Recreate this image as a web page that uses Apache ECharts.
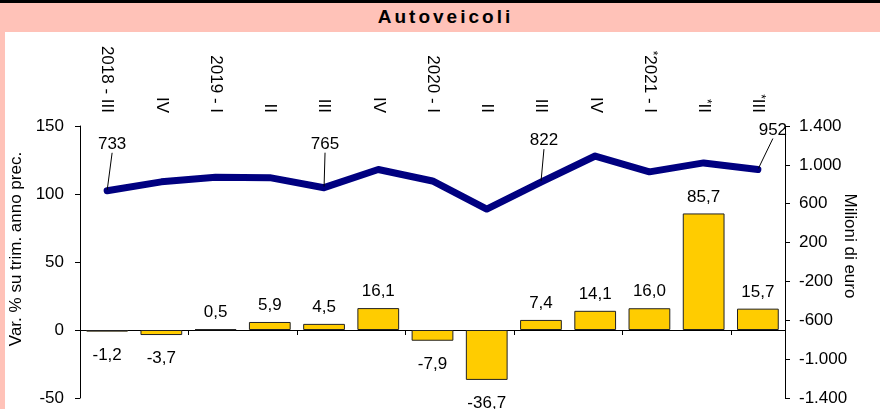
<!DOCTYPE html>
<html><head><meta charset="utf-8">
<script src="https://cdn.jsdelivr.net/npm/echarts@6/dist/echarts.min.js"></script>
<style>
html,body{margin:0;padding:0;width:880px;height:409px;overflow:hidden;background:#FFC2B8;}
#topline{position:absolute;left:0;top:0;width:880px;height:3px;background:#000;}
#title{position:absolute;left:0;top:6px;width:869px;padding-left:11px;height:26px;line-height:28px;text-align:center;font:bold 19px "Liberation Sans",Arial,sans-serif;letter-spacing:3px;color:#000;}
#chart{position:absolute;left:5px;top:32px;width:875px;height:377px;background:#fff;}
</style></head>
<body>
<div id="topline"></div>
<div id="title">Autoveicoli</div>
<div id="chart"></div>
<script>
const categories = ['2018 - III','IV','2019 - I','II','III','IV','2020 - I','II','III','IV','*2021 - I','*II','*III'];
const barValues = [-1.2, -3.7, 0.5, 5.9, 4.5, 16.1, -7.9, -36.7, 7.4, 14.1, 16.0, 85.7, 15.7];
const lineValues = [733, 825, 872, 868, 765, 952, 834, 545, 822, 1091, 928, 1020, 952];
const lineLabelShown = [true, false, false, false, true, false, false, false, true, false, false, false, true];
const leftAxis = {min: -50, max: 150, interval: 50};
const rightAxis = {min: -1400, max: 1400, interval: 400};

const FONT = '"Liberation Sans", Arial, sans-serif';
const labelOffsets = {0: [5, -32], 4: [1, -29], 8: [3, -27], 12: [15, -25]};

function comma(v) { return v.toFixed(1).replace('.', ','); }
function thousands(v) {
  const s = Math.abs(v).toString().replace(/\B(?=(\d{3})+(?!\d))/g, '.');
  return (v < 0 ? '-' : '') + s;
}

const chart = echarts.init(document.getElementById('chart'), null, {renderer: 'canvas'});
const option = {
  animation: false,
  textStyle: {fontFamily: FONT, color: '#000'},
  grid: {left: 75, right: 95, top: 94, bottom: 11, containLabel: false, outerBoundsMode: 'none'},
  xAxis: [
    {
      type: 'category', data: categories, position: 'top',
      axisLine: {show: false, onZero: false}, axisTick: {show: false},
      axisLabel: {
        rotate: 90, margin: 13, interval: 0, fontSize: 17, color: '#000', fontFamily: FONT,
        formatter: v => v.startsWith('*') ? '{sup|*}{n|' + v.slice(1) + '}' : '{n|' + v + '}',
        rich: {
          sup: {fontSize: 12, verticalAlign: 'top', fontFamily: FONT, color: '#000'},
          n: {fontSize: 17, fontFamily: FONT, color: '#000'}
        }
      },
      splitLine: {show: false}
    },
    {
      type: 'category', data: categories, position: 'bottom',
      axisLine: {show: true, onZero: true, onZeroAxisIndex: 0, lineStyle: {color: '#000', width: 1}},
      axisTick: {show: true, length: 5, lineStyle: {color: '#000'}},
      axisLabel: {show: false},
      splitLine: {show: false}
    }
  ],
  yAxis: [
    {
      type: 'value', position: 'left', min: leftAxis.min, max: leftAxis.max, interval: leftAxis.interval,
      name: 'Var. % su trim. anno prec.', nameLocation: 'middle', nameGap: 55, nameRotate: 90,
      nameMoveOverlap: false,
      nameTextStyle: {fontSize: 17, color: '#000', fontFamily: FONT, padding: [0, 0, 0, 26]},
      axisLine: {show: true, lineStyle: {color: '#000'}},
      axisTick: {show: true, length: 5, lineStyle: {color: '#000'}},
      axisLabel: {margin: 16, fontSize: 17, color: '#000', fontFamily: FONT},
      splitLine: {show: false}
    },
    {
      type: 'value', position: 'right', min: rightAxis.min, max: rightAxis.max, interval: rightAxis.interval,
      name: 'Milioni di euro', nameLocation: 'middle', nameGap: 56, nameRotate: -90,
      nameMoveOverlap: false,
      nameTextStyle: {fontSize: 17, color: '#000', fontFamily: FONT, padding: [0, 32, 0, 0]},
      axisLine: {show: true, lineStyle: {color: '#000'}},
      axisTick: {show: true, length: 5, lineStyle: {color: '#000'}},
      axisLabel: {margin: 14, fontSize: 17, color: '#000', fontFamily: FONT, formatter: thousands},
      splitLine: {show: false}
    }
  ],
  series: [
    {
      type: 'bar', xAxisIndex: 1, yAxisIndex: 0,
      barCategoryGap: '23%',
      data: barValues.map(v => ({
        value: v,
        label: {position: v < 0 ? 'bottom' : 'top', distance: v < 0 ? 15 : 8}
      })),
      itemStyle: {color: '#FFCC00', borderColor: '#222', borderWidth: 1},
      label: {show: true, fontSize: 17, color: '#000', fontFamily: FONT, formatter: p => comma(p.value)}
    },
    {
      type: 'line', xAxisIndex: 1, yAxisIndex: 1, z: 5,
      data: lineValues.map((v, i) => ({value: v, label: {show: lineLabelShown[i]}})),
      symbol: 'circle', symbolSize: 2, showSymbol: true,
      itemStyle: {color: '#000080'},
      lineStyle: {color: '#000080', width: 7, cap: 'round', join: 'round'},
      label: {show: true, position: 'top', fontSize: 17, color: '#000', fontFamily: FONT, formatter: p => String(p.value)},
      labelLine: {show: true, lineStyle: {color: '#000', width: 1}},
      labelLayout: p => {
        const o = labelOffsets[p.dataIndex];
        return o ? {dx: o[0], dy: o[1]} : {};
      }
    }
  ]
};
chart.setOption(option);
</script>
</body></html>
